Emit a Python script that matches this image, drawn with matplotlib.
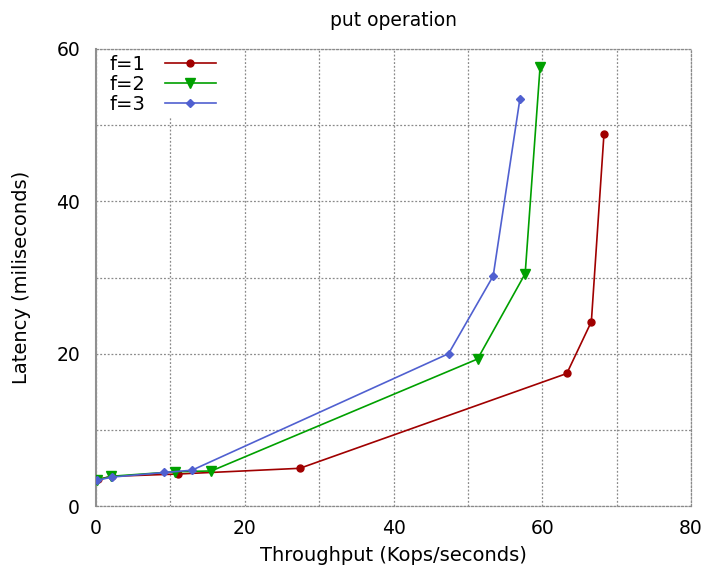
import matplotlib
matplotlib.use("Agg")
import matplotlib.pyplot as plt
from matplotlib.ticker import MultipleLocator

# throughput (Kops/s) vs latency (ms) for the put operation
f1_x = [0.3, 2.1, 11.0, 27.4, 63.3, 66.6, 68.3]
f1_y = [3.5, 3.9, 4.2, 4.95, 17.4, 24.2, 48.9]

f2_x = [0.2, 2.0, 10.6, 15.5, 51.3, 57.7, 59.7]
f2_y = [3.4, 3.9, 4.5, 4.6, 19.3, 30.5, 57.6]

f3_x = [0.2, 2.2, 9.2, 12.9, 47.4, 53.4, 57.0]
f3_y = [3.4, 3.8, 4.4, 4.7, 20.0, 30.2, 53.5]

labels = ["f=1", "f=2", "f=3"]

fig = plt.figure(figsize=(7.07, 5.69), dpi=100)
ax = fig.add_axes([0.1358, 0.1107, 0.8416, 0.8032])

ax.plot(f1_x, f1_y, color="#a00000", lw=1.2, marker="o", ms=5, label=labels[0], zorder=3)
ax.plot(f2_x, f2_y, color="#00a000", lw=1.2, marker="v", ms=7, label=labels[1], zorder=3)
ax.plot(f3_x, f3_y, color="#5060d0", lw=1.2, marker="D", ms=4, label=labels[2], zorder=3)

ax.set_xlim(0, 80)
ax.set_ylim(0, 60)
ax.xaxis.set_major_locator(MultipleLocator(20))
ax.xaxis.set_minor_locator(MultipleLocator(10))
ax.yaxis.set_major_locator(MultipleLocator(20))
ax.yaxis.set_minor_locator(MultipleLocator(10))
ax.tick_params(which="both", length=0, labelsize=13.5)
ax.tick_params(axis="y", pad=11.5)
ax.tick_params(axis="x", pad=9)
ax.grid(True, which="both", color="#8a8a8a", linestyle=(0, (1.5, 1.5)), lw=0.9)

# gnuplot-like frame: solid left edge, dotted elsewhere
ax.spines["left"].set_color("#909090")
ax.spines["left"].set_linewidth(1.5)
for side in ["bottom", "top", "right"]:
    ax.spines[side].set_color("#8a8a8a")
    ax.spines[side].set_linestyle((0, (1.5, 1.5)))
    ax.spines[side].set_linewidth(0.9)

ax.set_title("put operation", fontsize=13.5, pad=16.5)
ax.set_xlabel("Throughput (Kops/seconds)", fontsize=14, labelpad=6)
ax.set_ylabel("Latency (miliseconds)", fontsize=14, labelpad=18)

leg = ax.legend(loc="upper left", frameon=True, markerfirst=False, fontsize=14,
                handlelength=2.6, labelspacing=0.05, borderaxespad=0.1,
                borderpad=0.2, handletextpad=1.0,
                bbox_to_anchor=(0.0134, 1.0))
leg.get_frame().set_edgecolor("none")
leg.get_frame().set_facecolor("white")
leg.get_frame().set_alpha(1.0)
leg.get_frame().set_boxstyle("square", pad=0.0)

fig.savefig("out.png", dpi=100)
